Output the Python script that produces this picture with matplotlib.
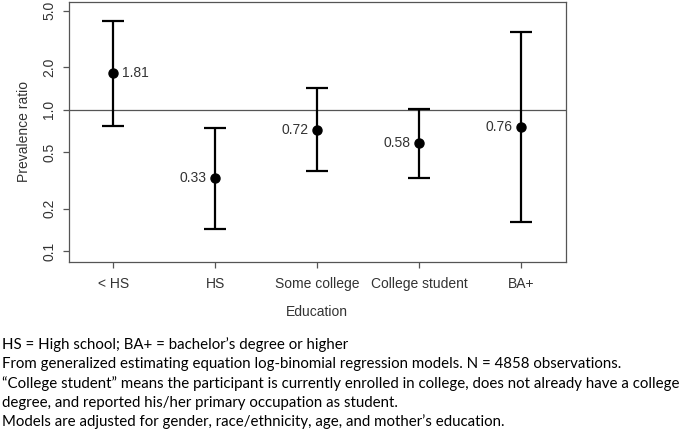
import numpy as np
import matplotlib
matplotlib.use("Agg")
import matplotlib.pyplot as plt
from matplotlib.ticker import FixedLocator, NullLocator


# Data
categories = ["< HS", "HS", "Some college", "College student", "BA+"]
ratios = [1.81, 0.33, 0.72, 0.58, 0.76]
ci_low = [0.767, 0.144, 0.367, 0.328, 0.161]
ci_high = [4.23, 0.743, 1.416, 1.01, 3.55]
label_side = ["right", "left", "left", "left", "left"]

y_ticks = [0.1, 0.2, 0.5, 1.0, 2.0, 5.0]
y_tick_labels = ["0.1", "0.2", "0.5", "1.0", "2.0", "5.0"]

footnotes = [
    "HS = High school; BA+ = bachelor\u2019s degree or higher",
    "From generalized estimating equation log-binomial regression models. N = 4858 observations.",
    "\u201cCollege student\u201d means the participant is currently enrolled in college, does not already have a college",
    "degree, and reported his/her primary occupation as student.",
    "Models are adjusted for gender, race/ethnicity, age, and mother\u2019s education.",
]

plt.rcParams['font.family'] = ['Liberation Sans', 'DejaVu Sans']

fig = plt.figure(figsize=(6.83, 4.33), dpi=100)
ax = fig.add_axes([69 / 683, 1 - 261.7 / 433, (565.7 - 69) / 683, (261.7 - 2) / 433])

x = np.arange(1, len(categories) + 1)
ratios_arr = np.array(ratios)
yerr = np.vstack([ratios_arr - np.array(ci_low), np.array(ci_high) - ratios_arr])

ax.axhline(1.0, color="#555555", lw=0.9, zorder=1)
ax.errorbar(x, ratios_arr, yerr=yerr, fmt="o", color="black", ms=6.5,
            elinewidth=1.6, capsize=7.8, capthick=1.6, zorder=3)

for xi, r, side in zip(x, ratios, label_side):
    off = 6 if side == "right" else -6
    ax.annotate(f"{r:.2f}", (xi, r), xytext=(off, 0), textcoords="offset points",
                ha="left" if side == "right" else "right", va="center",
                fontsize=10, color="#333333")

ax.set_yscale("log")
ax.set_ylim(0.0845, 5.76)
ax.set_xlim(0.566, 5.438)
ax.yaxis.set_major_locator(FixedLocator(y_ticks))
ax.yaxis.set_minor_locator(NullLocator())
ax.set_yticklabels(y_tick_labels, rotation=90, va="center")
ax.set_xticks(x)
ax.set_xticklabels(categories)

ax.tick_params(axis="both", direction="out", length=4, width=0.9,
               color="#555555", labelcolor="#333333", labelsize=10, pad=5)
ax.tick_params(axis="x", pad=7)
for s in ax.spines.values():
    s.set_color("#555555")
    s.set_linewidth(0.9)

ax.set_ylabel("Prevalence ratio", fontsize=10, color="#333333", labelpad=8)
ax.set_xlabel("Education", fontsize=10, color="#333333", labelpad=10)

# footnotes: shrink font so the longest line fits the width seen in the reference
fn_family = ["Lato", "DejaVu Sans"]
renderer = fig.canvas.get_renderer()
probe = fig.text(0, 0, footnotes[2], fontsize=11, family=fn_family)
w = probe.get_window_extent(renderer).width
probe.remove()
fn_size = 11 * 676 / w

y0 = 433 - 345
for i, line in enumerate(footnotes):
    fig.text(2 / 683, (y0 - i * 19.2) / 433, line, fontsize=fn_size, family=fn_family,
             ha="left", va="center", color="black")

fig.savefig("out.png", dpi=100)
